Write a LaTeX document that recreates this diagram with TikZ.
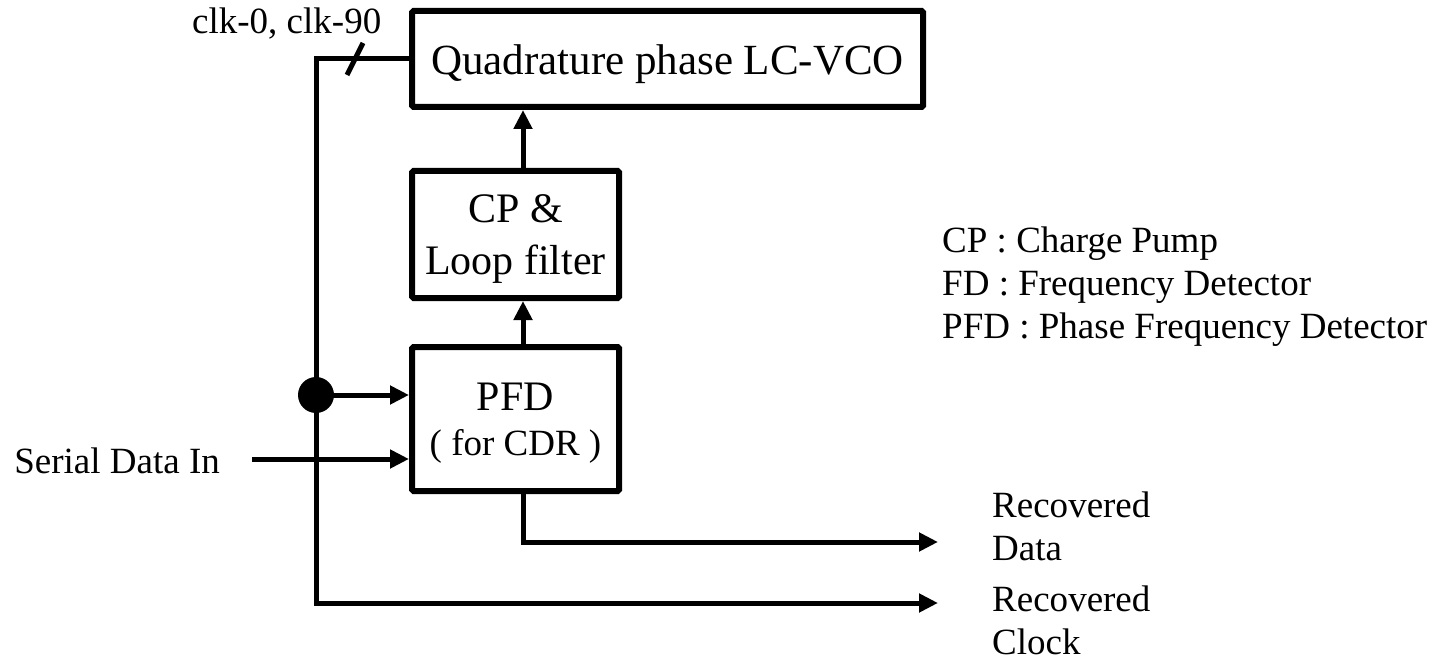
\documentclass[tikz,border=0pt]{standalone}
\usepackage{fontspec}
\setmainfont{Liberation Serif}
\usetikzlibrary{arrows.meta}
\begin{document}
\begin{tikzpicture}[x=1pt,y=-1pt,
  box/.style={draw, line width=6pt, rounded corners=1.5pt, inner sep=0pt,
              font=\fontsize{42}{45}\selectfont, align=center},
  conn/.style={line width=5pt},
  arr/.style={conn, -{Triangle[length=19pt,width=18pt]}},
  lbl/.style={inner sep=0pt, font=\fontsize{37}{43}\selectfont, align=left},
  junction/.style={circle, fill, minimum size=36pt, inner sep=0pt}]
\useasboundingbox (0,0) rectangle (1450,660);

% blocks
\node[box, minimum width=511pt, minimum height=96pt, font=\fontsize{43}{45}\selectfont,
      text height=32pt, text depth=0pt]
  (vco) at (667.5,59) {Quadrature phase LC-VCO};
\node[box, minimum width=207pt, minimum height=127pt, font=\fontsize{42}{52}\selectfont, text depth=0pt]
  (cp) at (515.5,234.5) {CP \&\\Loop filter};
\node[box, minimum width=207pt, minimum height=144pt, text depth=0pt]
  (pfd) at (515.5,419) {PFD\\{\fontsize{37}{45}\selectfont ( for CDR )}};

% clock tap on the feedback line
\node[junction] (tap) at (316,395) {};

% routing points
\coordinate (col) at (523,0);
\coordinate (botcorner) at (316,603);
\coordinate (clkend) at (938,603);
\coordinate (dataend) at (938,542);
\coordinate (sdin) at (252,459);

% connectors
\draw[arr] (vco.west) -| (botcorner) -- (clkend);
\draw[arr] (tap.center) -- (tap.center -| pfd.west);
\draw[arr] (sdin) -- (sdin -| pfd.west);
\draw[arr] (pfd.north -| col) -- (cp.south -| col);
\draw[arr] (cp.north -| col) -- (vco.south -| col);
\draw[arr] (pfd.south -| col) |- (dataend);

% bus slash on the two-phase clock line
\draw[line width=5pt] (347,75) -- (363,43);

% labels
\node[lbl, anchor=base west] (clklbl) at (192,34) {clk-0, clk-90};
\node[lbl, anchor=base east] (sdilbl) at (220,473) {Serial Data In};
\node[lbl, anchor=west] (rdlbl) at (992,526) {Recovered\\Data};
\node[lbl, anchor=west] (rclbl) at (992,620) {Recovered\\Clock};
\node[lbl, anchor=west] (legend) at (942,286.5)
  {CP : Charge Pump\\FD : Frequency Detector\\PFD : Phase Frequency Detector};
\end{tikzpicture}
\end{document}
